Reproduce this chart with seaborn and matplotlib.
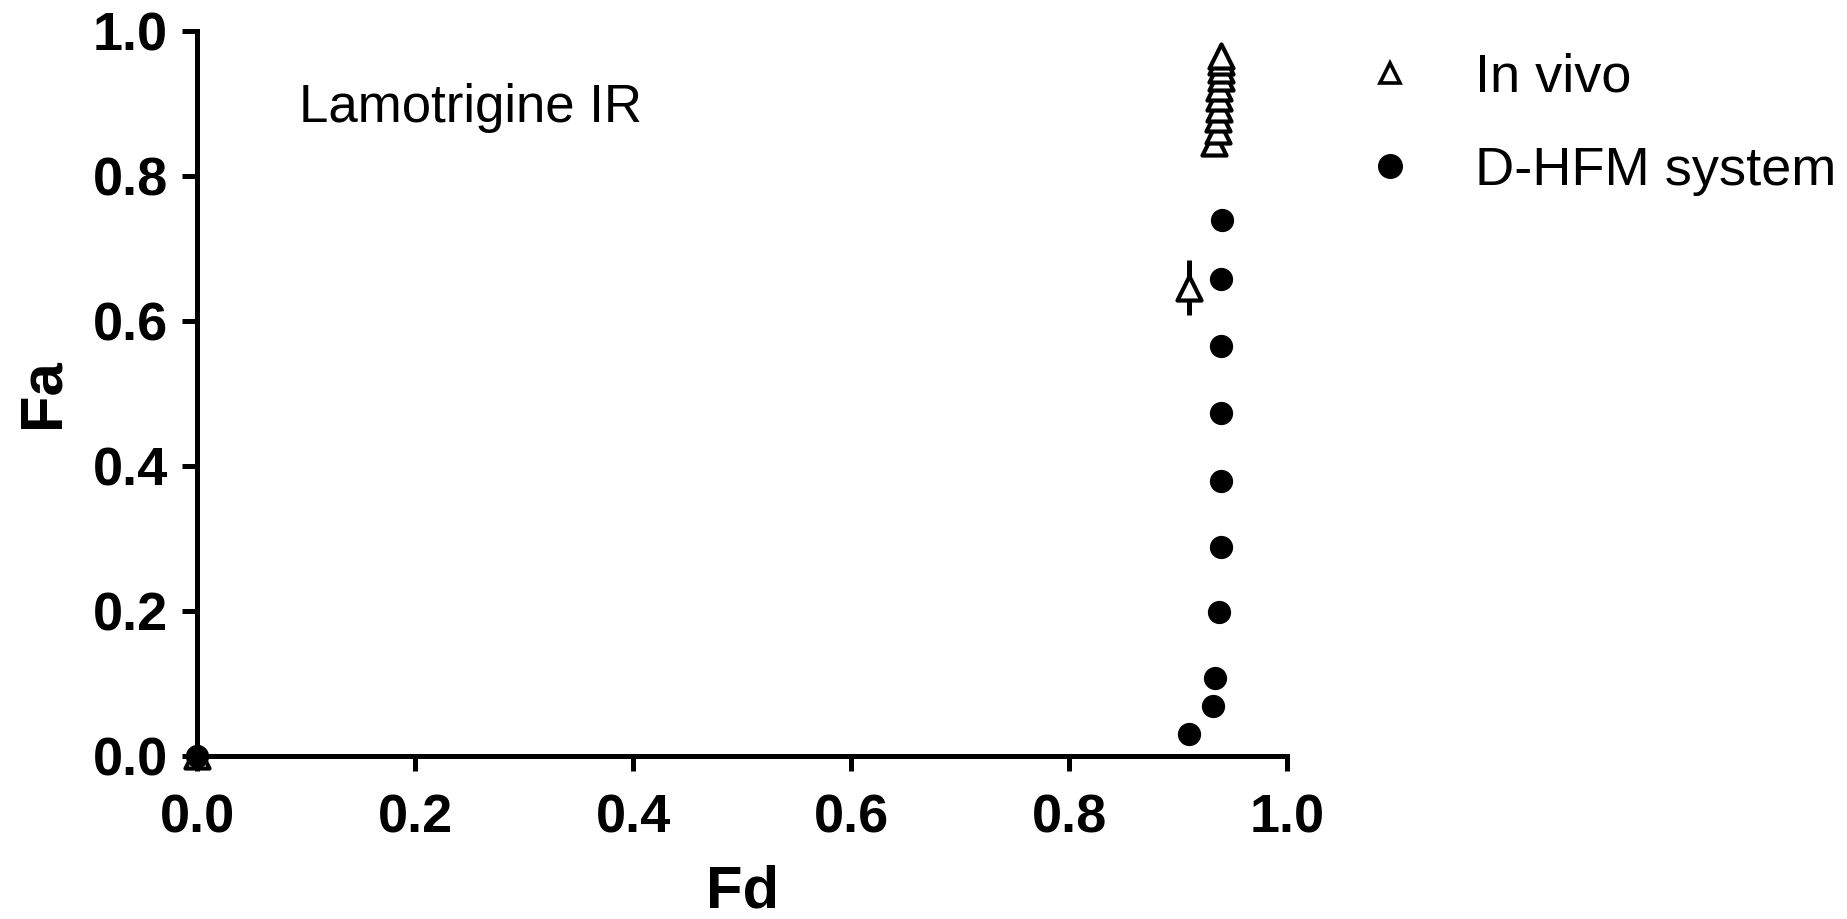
import numpy as np
import pandas as pd
import matplotlib
matplotlib.use("Agg")
import matplotlib.pyplot as plt
import seaborn as sns
from matplotlib.lines import Line2D

# ---- data ----
invivo_fd = [0.0, 0.933, 0.937, 0.937, 0.938, 0.938, 0.938, 0.939, 0.939, 0.939, 0.939]
invivo_fa = [0.0, 0.845, 0.862, 0.878, 0.893, 0.908, 0.922, 0.935, 0.946, 0.957, 0.966]
invivo_err_fd = [0.910]
invivo_err_fa = [0.646]
invivo_err_sd = [0.038]

dhfm_fd = [0.0, 0.910, 0.932, 0.934, 0.938, 0.939, 0.939, 0.939, 0.939, 0.939, 0.940]
dhfm_fa = [0.0, 0.030, 0.069, 0.108, 0.198, 0.288, 0.380, 0.473, 0.565, 0.658, 0.739]

series_labels = ["In vivo", "D-HFM system"]
xticks = [0.0, 0.2, 0.4, 0.6, 0.8, 1.0]
yticks = [0.0, 0.2, 0.4, 0.6, 0.8, 1.0]

sns.set_theme(style="ticks")
plt.rcParams["font.family"] = ["Liberation Sans", "DejaVu Sans"]
plt.rcParams["text.color"] = "black"
plt.rcParams["axes.labelcolor"] = "black"
plt.rcParams["xtick.color"] = "black"
plt.rcParams["ytick.color"] = "black"

fig = plt.figure(figsize=(18.47, 9.19), dpi=100)
ax = fig.add_axes([197 / 1847, 1 - 756 / 919, (1287 - 197) / 1847, (756 - 31) / 919])

df_iv = pd.DataFrame({"Fd": invivo_fd + invivo_err_fd, "Fa": invivo_fa + invivo_err_fa})
df_d = pd.DataFrame({"Fd": dhfm_fd, "Fa": dhfm_fa})

ax.errorbar(invivo_err_fd, invivo_err_fa, yerr=invivo_err_sd, fmt="none",
            ecolor="black", elinewidth=3.6, capsize=0, zorder=2)

sns.scatterplot(data=df_iv, x="Fd", y="Fa", ax=ax, marker="^", s=300,
                facecolor="white", edgecolor="black", linewidth=3.0,
                clip_on=False, zorder=3, legend=False)
sns.scatterplot(data=df_d, x="Fd", y="Fa", ax=ax, marker="o", s=280,
                color="black", edgecolor="black", linewidth=0,
                clip_on=False, zorder=4, legend=False)

ax.set_xlim(0, 1)
ax.set_ylim(0, 1)
ax.set_xticks(xticks)
ax.set_yticks(yticks)
ax.set_xticklabels([f"{v:.1f}" for v in xticks])
ax.set_yticklabels([f"{v:.1f}" for v in yticks])

for s in ["top", "right"]:
    ax.spines[s].set_visible(False)
for s in ["left", "bottom"]:
    ax.spines[s].set_linewidth(3.6)
    ax.spines[s].set_color("black")

ax.tick_params(axis="both", direction="out", length=11, width=3.6, color="black",
               labelsize=39, labelcolor="black")
ax.tick_params(axis="x", pad=16)
ax.tick_params(axis="y", pad=10)
for lab in ax.get_xticklabels() + ax.get_yticklabels():
    lab.set_fontweight("bold")

ax.set_xlabel("Fd", fontsize=43, fontweight="bold", labelpad=15, color="black")
ax.set_ylabel("Fa", fontsize=43, fontweight="bold", labelpad=16, color="black")

ax.text(299 / 1847, 1 - 108 / 919, "Lamotrigine IR", transform=fig.transFigure,
        fontsize=38, va="center", ha="left", color="black")

handles = [
    Line2D([], [], linestyle="none", marker="^", markersize=14, markerfacecolor="white",
           markeredgecolor="black", markeredgewidth=2.6),
    Line2D([], [], linestyle="none", marker="o", markersize=17, markerfacecolor="black",
           markeredgecolor="black"),
]
leg = fig.legend(handles, series_labels, loc="upper left",
                 bbox_to_anchor=(1361 / 1847, 1 - 53 / 919), frameon=False, fontsize=39,
                 handlelength=1.08, handletextpad=1.03, labelspacing=0.8,
                 borderpad=0, borderaxespad=0)
for t in leg.get_texts():
    t.set_color("black")

fig.savefig("out.png", dpi=100)
